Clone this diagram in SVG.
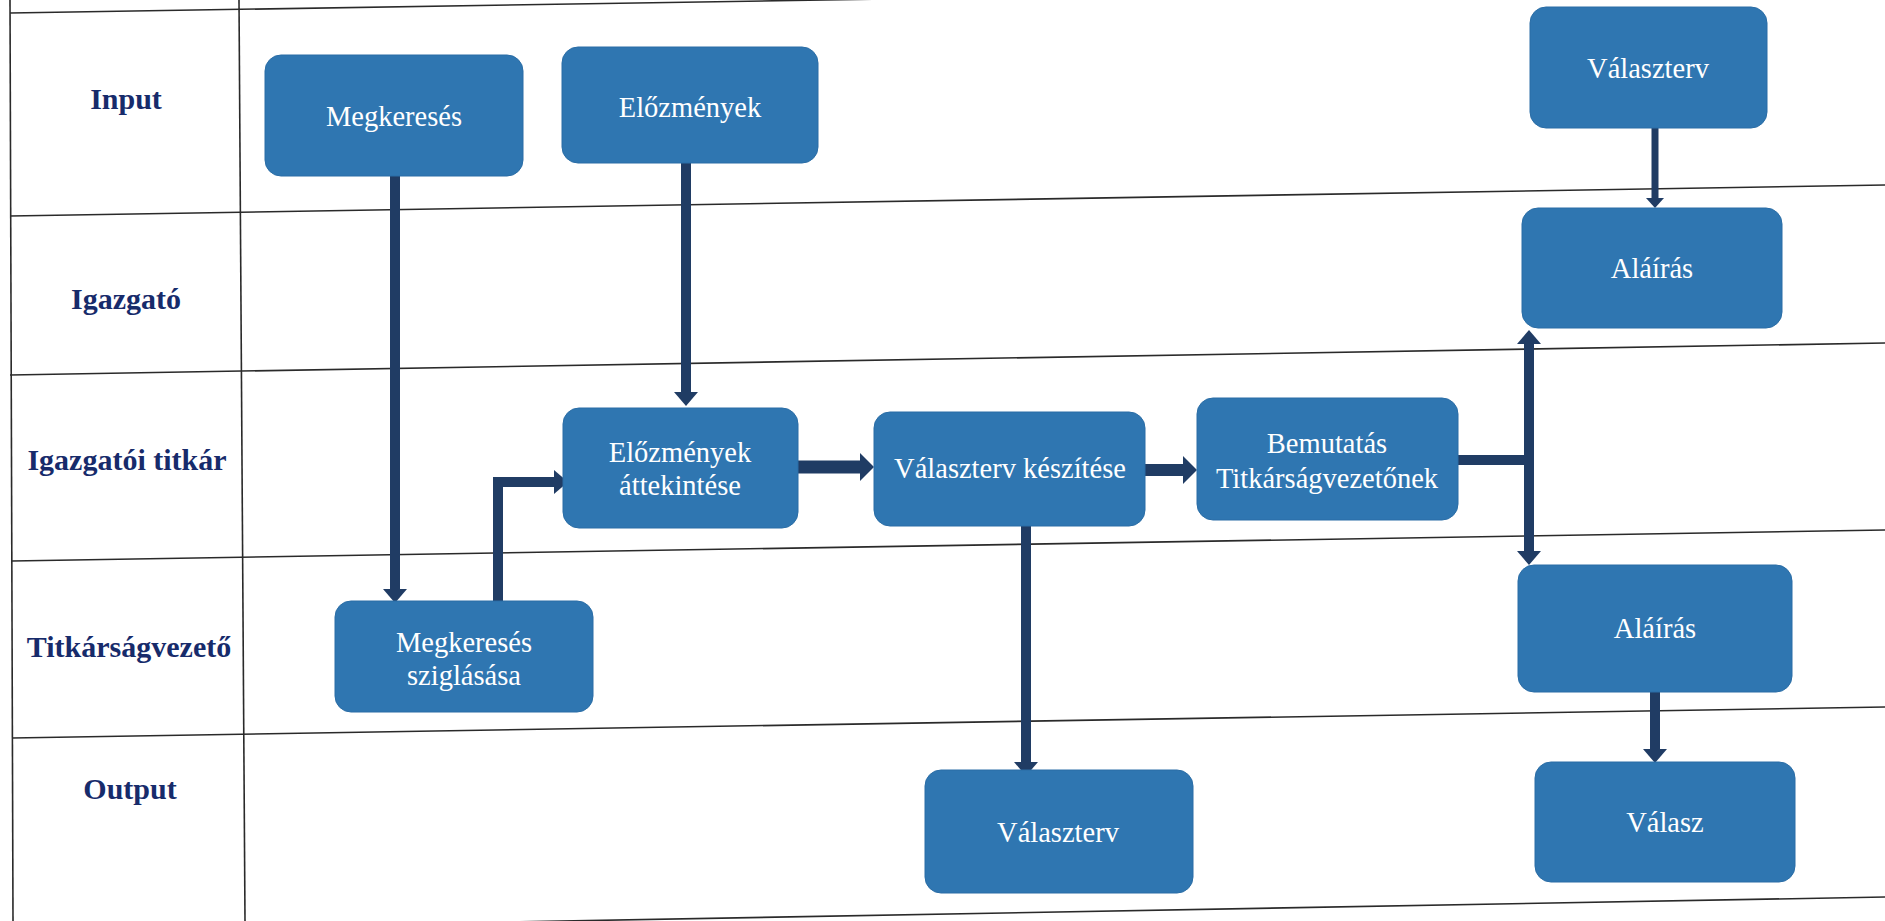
<svg xmlns="http://www.w3.org/2000/svg" width="1885" height="921" viewBox="0 0 1885 921">
<style>
.grid{stroke:#2a2a2a;stroke-width:1.6;fill:none}
.lane{font-family:"Liberation Serif","Times New Roman",serif;font-weight:bold;font-size:30px;fill:#172b6b;text-anchor:middle}
.box{fill:#2f76b1;stroke:#2a6da6;stroke-width:1}
.lbl{font-family:"Liberation Serif","Times New Roman",serif;font-size:28.5px;fill:#ffffff;text-anchor:middle}
.con{stroke:#203c64;fill:none;stroke-linejoin:miter}
</style>
<defs>
<marker id="ah" markerUnits="userSpaceOnUse" viewBox="0 0 14 24" markerWidth="14" markerHeight="24" refX="0" refY="12" orient="auto">
<path d="M0,0 L14,12 L0,24 z" fill="#203c64"/>
</marker>
<marker id="ahb" markerUnits="userSpaceOnUse" viewBox="0 0 14 28" markerWidth="14" markerHeight="28" refX="0" refY="14" orient="auto">
<path d="M0,0 L14,14 L0,28 z" fill="#203c64"/>
</marker>
<marker id="ahs" markerUnits="userSpaceOnUse" viewBox="0 0 10 18" markerWidth="10" markerHeight="18" refX="0" refY="9" orient="auto">
<path d="M0,0 L10,9 L0,18 z" fill="#203c64"/>
</marker>
</defs>
<rect x="0" y="0" width="1885" height="921" fill="#ffffff"/>
<g id="table">
<line class="grid" x1="10" y1="0" x2="13" y2="921"/>
<line class="grid" x1="239" y1="0" x2="245" y2="921"/>
<line class="grid" x1="10" y1="13" x2="1885" y2="-17"/>
<line class="grid" x1="10" y1="216" x2="1885" y2="185"/>
<line class="grid" x1="10" y1="375" x2="1885" y2="343"/>
<line class="grid" x1="12" y1="561" x2="1885" y2="530"/>
<line class="grid" x1="12" y1="738" x2="1885" y2="707"/>
<line class="grid" x1="13" y1="931" x2="1885" y2="897"/>
<text class="lane" x="126" y="109">Input</text>
<text class="lane" x="126" y="309">Igazgató</text>
<text class="lane" x="127" y="470">Igazgatói titkár</text>
<text class="lane" x="129" y="657">Titkárságvezető</text>
<text class="lane" x="130" y="799">Output</text>
</g>
<g id="connectors">
<path class="con" stroke-width="10" d="M395,176 V589" marker-end="url(#ah)"/>
<path class="con" stroke-width="10" d="M498,613 V482 H554" marker-end="url(#ah)"/>
<path class="con" stroke-width="10" d="M686,163 V392" marker-end="url(#ah)"/>
<path class="con" stroke-width="13" d="M798,467 H860" marker-end="url(#ahb)"/>
<path class="con" stroke-width="12" d="M1145,470 H1183" marker-end="url(#ahb)"/>
<path class="con" stroke-width="10" d="M1026,512 V762" marker-end="url(#ah)"/>
<path class="con" stroke-width="10" d="M1458,460 H1529"/>
<path class="con" stroke-width="10" d="M1529,440 V344" marker-end="url(#ah)"/>
<path class="con" stroke-width="10" d="M1529,440 V551" marker-end="url(#ah)"/>
<path class="con" stroke-width="7" d="M1655,128 V198" marker-end="url(#ahs)"/>
<path class="con" stroke-width="10" d="M1655,692 V749" marker-end="url(#ah)"/>
</g>
<g id="n-megkereses">
<rect class="box" x="265" y="55" width="258" height="121" rx="16"/>
<text class="lbl" x="394" y="126">Megkeresés</text>
</g>
<g id="n-elozmenyek">
<rect class="box" x="562" y="47" width="256" height="116" rx="16"/>
<text class="lbl" x="690" y="117">Előzmények</text>
</g>
<g id="n-valaszterv-in">
<rect class="box" x="1530" y="7" width="237" height="121" rx="16"/>
<text class="lbl" x="1648" y="78">Választerv</text>
</g>
<g id="n-alairas-igazgato">
<rect class="box" x="1522" y="208" width="260" height="120" rx="16"/>
<text class="lbl" x="1652" y="278">Aláírás</text>
</g>
<g id="n-attekintes">
<rect class="box" x="563" y="408" width="235" height="120" rx="16"/>
<text class="lbl" x="680" y="462">Előzmények</text>
<text class="lbl" x="680" y="495">áttekintése</text>
</g>
<g id="n-keszites">
<rect class="box" x="874" y="412" width="271" height="114" rx="16"/>
<text class="lbl" x="1010" y="478">Választerv készítése</text>
</g>
<g id="n-bemutatas">
<rect class="box" x="1197" y="398" width="261" height="122" rx="16"/>
<text class="lbl" x="1327" y="453">Bemutatás</text>
<text class="lbl" x="1327" y="488">Titkárságvezetőnek</text>
</g>
<g id="n-szignalas">
<rect class="box" x="335" y="601" width="258" height="111" rx="16"/>
<text class="lbl" x="464" y="652">Megkeresés</text>
<text class="lbl" x="464" y="685">sziglásása</text>
</g>
<g id="n-alairas-titkarsag">
<rect class="box" x="1518" y="565" width="274" height="127" rx="16"/>
<text class="lbl" x="1655" y="638">Aláírás</text>
</g>
<g id="n-valaszterv-out">
<rect class="box" x="925" y="770" width="268" height="123" rx="16"/>
<text class="lbl" x="1058" y="842">Választerv</text>
</g>
<g id="n-valasz">
<rect class="box" x="1535" y="762" width="260" height="120" rx="16"/>
<text class="lbl" x="1665" y="832">Válasz</text>
</g>
</svg>
